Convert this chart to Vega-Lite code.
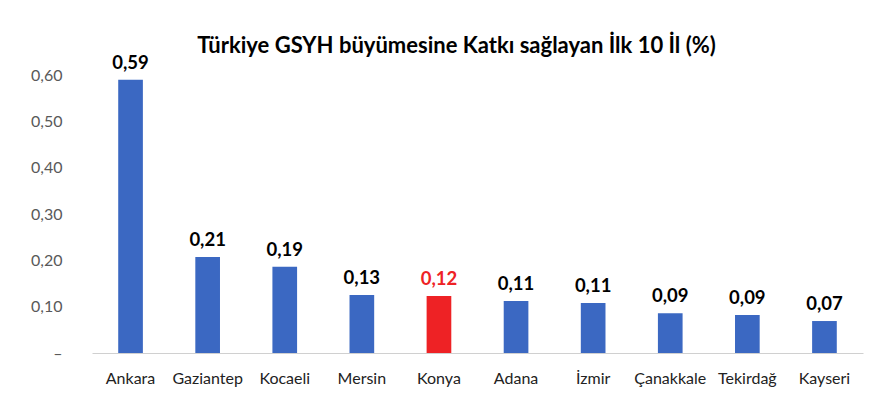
{
  "$schema": "https://vega.github.io/schema/vega-lite/v6.json",
  "width": 771,
  "height": 278,
  "autosize": {"type": "none"},
  "padding": {"left": 92, "top": 75, "right": 23, "bottom": 55},
  "background": "white",
  "title": {
    "text": "Türkiye GSYH büyümesine Katkı sağlayan İlk 10 İl (%)",
    "font": "Lato",
    "fontSize": 22,
    "fontWeight": "bold",
    "color": "#000000",
    "anchor": "middle",
    "offset": -4,
    "dx": -21
  },
  "data": {
    "values": [
      {"il": "Ankara", "deger": 0.59, "etiket": "0,59", "grup": "diger"},
      {"il": "Gaziantep", "deger": 0.207, "etiket": "0,21", "grup": "diger"},
      {"il": "Kocaeli", "deger": 0.186, "etiket": "0,19", "grup": "diger"},
      {"il": "Mersin", "deger": 0.125, "etiket": "0,13", "grup": "diger"},
      {"il": "Konya", "deger": 0.123, "etiket": "0,12", "grup": "Konya"},
      {"il": "Adana", "deger": 0.112, "etiket": "0,11", "grup": "diger"},
      {"il": "İzmir", "deger": 0.108, "etiket": "0,11", "grup": "diger"},
      {"il": "Çanakkale", "deger": 0.086, "etiket": "0,09", "grup": "diger"},
      {"il": "Tekirdağ", "deger": 0.082, "etiket": "0,09", "grup": "diger"},
      {"il": "Kayseri", "deger": 0.069, "etiket": "0,07", "grup": "diger"}
    ]
  },
  "encoding": {
    "x": {
      "field": "il",
      "type": "nominal",
      "sort": null,
      "scale": {"paddingInner": 0.68, "paddingOuter": 0.34},
      "axis": {
        "title": null,
        "labelAngle": 0,
        "labelFont": "Lato",
        "labelFontSize": 16,
        "labelColor": "#222222",
        "labelPadding": 17,
        "ticks": false,
        "domainColor": "#D0D0D0",
        "domainWidth": 1
      }
    },
    "y": {
      "field": "deger",
      "type": "quantitative",
      "scale": {"domain": [0, 0.6]},
      "axis": {
        "title": null,
        "values": [0, 0.1, 0.2, 0.3, 0.4, 0.5, 0.6],
        "labelExpr": "datum.value == 0 ? '–\u00a0\u00a0\u00a0' : replace(format(datum.value, '.2f'), '.', ',')",
        "labelFont": "Lato",
        "labelFontSize": 16,
        "labelColor": "#595959",
        "labelPadding": 30,
        "ticks": false,
        "domain": false,
        "grid": false
      }
    },
    "color": {
      "field": "grup",
      "type": "nominal",
      "scale": {"domain": ["diger", "Konya"], "range": ["#3B68C2", "#EE2225"]},
      "legend": null
    }
  },
  "layer": [
    {"mark": {"type": "bar", "clip": false}},
    {
      "mark": {
        "type": "text",
        "baseline": "bottom",
        "dy": -7,
        "font": "Lato",
        "fontSize": 18.5,
        "fontWeight": "bold"
      },
      "encoding": {
        "text": {"field": "etiket"},
        "color": {
          "field": "grup",
          "type": "nominal",
          "scale": {"domain": ["diger", "Konya"], "range": ["#000000", "#EE2225"]},
          "legend": null
        }
      }
    }
  ],
  "resolve": {"scale": {"color": "independent"}},
  "config": {"view": {"stroke": null}}
}
